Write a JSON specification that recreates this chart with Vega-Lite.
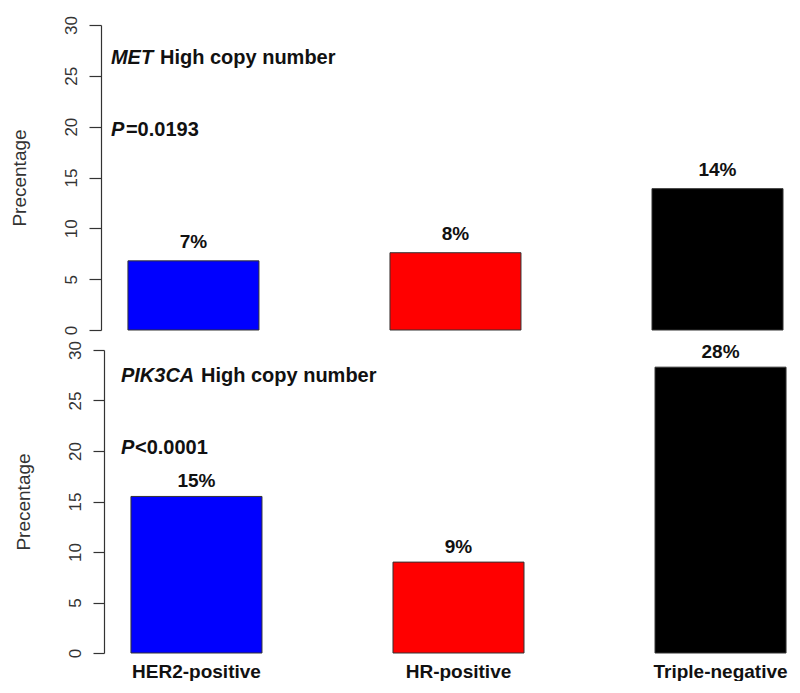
{
  "$schema": "https://vega.github.io/schema/vega-lite/v6.json",
  "background": "white",
  "padding": {"left": 10, "top": 15, "right": 0, "bottom": 0},
  "spacing": 5,
  "datasets": {
    "bars": [
      {"panel": "MET", "group": "HER2-positive", "value": 6.8, "label": "7%"},
      {"panel": "MET", "group": "HR-positive", "value": 7.6, "label": "8%"},
      {"panel": "MET", "group": "Triple-negative", "value": 13.9, "label": "14%"},
      {"panel": "PIK3CA", "group": "HER2-positive", "value": 15.5, "label": "15%"},
      {"panel": "PIK3CA", "group": "HR-positive", "value": 9.0, "label": "9%"},
      {"panel": "PIK3CA", "group": "Triple-negative", "value": 28.3, "label": "28%"}
    ],
    "notes": [
      {"panel": "MET", "anchor": "HER2-positive", "part": "gene", "text": "MET", "y": 26.75},
      {"panel": "MET", "anchor": "HER2-positive", "part": "rest", "text": "High copy number", "y": 26.75},
      {"panel": "MET", "anchor": "HER2-positive", "part": "p", "text": "P", "y": 19.7},
      {"panel": "MET", "anchor": "HER2-positive", "part": "pval", "text": "=0.0193", "y": 19.7},
      {"panel": "PIK3CA", "anchor": "HER2-positive", "part": "gene", "text": "PIK3CA", "y": 27.4},
      {"panel": "PIK3CA", "anchor": "HER2-positive", "part": "rest", "text": "High copy number", "y": 27.4},
      {"panel": "PIK3CA", "anchor": "HER2-positive", "part": "p", "text": "P", "y": 20.25},
      {"panel": "PIK3CA", "anchor": "HER2-positive", "part": "pval", "text": "<0.0001", "y": 20.25}
    ]
  },
  "vconcat": [
    {
      "width": 697,
      "height": 305,
      "layer": [
        {
          "data": {"name": "bars"},
          "transform": [{"filter": "datum.panel === 'MET'"}],
          "mark": {"type": "bar", "stroke": "#333333", "strokeWidth": 1},
          "encoding": {
            "x": {"field": "group", "type": "nominal", "sort": null, "axis": null,
                  "scale": {"paddingInner": 0.5, "paddingOuter": 0.08, "align": 0.571}},
            "y": {"field": "value", "type": "quantitative", "title": "Precentage",
                  "scale": {"domain": [0, 30], "nice": false},
                  "axis": {"values": [0, 5, 10, 15, 20, 25, 30], "offset": 3, "tickSize": 12, "labelPadding": 9, "titlePadding": 33}},
            "color": {"field": "group", "type": "nominal", "legend": null, "sort": null,
                      "scale": {"domain": ["HER2-positive", "HR-positive", "Triple-negative"], "range": ["#0000ff", "#ff0000", "#000000"]}}
          }
        },
        {
          "data": {"name": "bars"},
          "transform": [{"filter": "datum.panel === 'MET'"}],
          "mark": {"type": "text", "fontSize": 19, "fontWeight": "bold", "baseline": "middle", "dy": -19, "color": "#111111"},
          "encoding": {
            "x": {"field": "group", "type": "nominal", "sort": null},
            "y": {"field": "value", "type": "quantitative", "title": "Precentage"},
            "text": {"field": "label"}
          }
        },
        {
          "data": {"name": "notes"},
          "transform": [{"filter": "datum.panel === 'MET' && (datum.part === 'gene' || datum.part === 'p')"}],
          "mark": {"type": "text", "fontSize": 20, "fontWeight": "bold", "fontStyle": "italic", "align": "left", "baseline": "middle", "dx": -17, "color": "#111111"},
          "encoding": {
            "x": {"field": "anchor", "type": "nominal", "sort": null, "bandPosition": 0},
            "y": {"field": "y", "type": "quantitative", "title": "Precentage"},
            "text": {"field": "text"}
          }
        },
        {
          "data": {"name": "notes"},
          "transform": [{"filter": "datum.panel === 'MET' && datum.part === 'rest'"}],
          "mark": {"type": "text", "fontSize": 20, "fontWeight": "bold", "align": "left", "baseline": "middle", "dx": 32, "color": "#111111"},
          "encoding": {
            "x": {"field": "anchor", "type": "nominal", "sort": null, "bandPosition": 0},
            "y": {"field": "y", "type": "quantitative", "title": "Precentage"},
            "text": {"field": "text"}
          }
        },
        {
          "data": {"name": "notes"},
          "transform": [{"filter": "datum.panel === 'MET' && datum.part === 'pval'"}],
          "mark": {"type": "text", "fontSize": 20, "fontWeight": "bold", "align": "left", "baseline": "middle", "dx": -2, "color": "#111111"},
          "encoding": {
            "x": {"field": "anchor", "type": "nominal", "sort": null, "bandPosition": 0},
            "y": {"field": "y", "type": "quantitative", "title": "Precentage"},
            "text": {"field": "text"}
          }
        }
      ]
    },
    {
      "width": 697,
      "height": 303,
      "layer": [
        {
          "data": {"name": "bars"},
          "transform": [{"filter": "datum.panel === 'PIK3CA'"}],
          "mark": {"type": "bar", "stroke": "#333333", "strokeWidth": 1},
          "encoding": {
            "x": {"field": "group", "type": "nominal", "sort": null,
                  "scale": {"paddingInner": 0.5, "paddingOuter": 0.08, "align": 0.643},
                  "axis": {"title": null, "labelAngle": 0, "domain": false, "ticks": false, "labelPadding": 9, "labelFontSize": 19, "labelFontWeight": "bold", "labelColor": "#111111"}},
            "y": {"field": "value", "type": "quantitative", "title": "Precentage",
                  "scale": {"domain": [0, 30], "nice": false},
                  "axis": {"values": [0, 5, 10, 15, 20, 25, 30], "offset": 0, "tickSize": 11, "labelPadding": 9, "titlePadding": 33}},
            "color": {"field": "group", "type": "nominal", "legend": null, "sort": null,
                      "scale": {"domain": ["HER2-positive", "HR-positive", "Triple-negative"], "range": ["#0000ff", "#ff0000", "#000000"]}}
          }
        },
        {
          "data": {"name": "bars"},
          "transform": [{"filter": "datum.panel === 'PIK3CA'"}],
          "mark": {"type": "text", "fontSize": 19, "fontWeight": "bold", "baseline": "middle", "dy": -15, "color": "#111111"},
          "encoding": {
            "x": {"field": "group", "type": "nominal", "sort": null},
            "y": {"field": "value", "type": "quantitative", "title": "Precentage"},
            "text": {"field": "label"}
          }
        },
        {
          "data": {"name": "notes"},
          "transform": [{"filter": "datum.panel === 'PIK3CA' && (datum.part === 'gene' || datum.part === 'p')"}],
          "mark": {"type": "text", "fontSize": 20, "fontWeight": "bold", "fontStyle": "italic", "align": "left", "baseline": "middle", "dx": -10, "color": "#111111"},
          "encoding": {
            "x": {"field": "anchor", "type": "nominal", "sort": null, "bandPosition": 0},
            "y": {"field": "y", "type": "quantitative", "title": "Precentage"},
            "text": {"field": "text"}
          }
        },
        {
          "data": {"name": "notes"},
          "transform": [{"filter": "datum.panel === 'PIK3CA' && datum.part === 'rest'"}],
          "mark": {"type": "text", "fontSize": 20, "fontWeight": "bold", "align": "left", "baseline": "middle", "dx": 70, "color": "#111111"},
          "encoding": {
            "x": {"field": "anchor", "type": "nominal", "sort": null, "bandPosition": 0},
            "y": {"field": "y", "type": "quantitative", "title": "Precentage"},
            "text": {"field": "text"}
          }
        },
        {
          "data": {"name": "notes"},
          "transform": [{"filter": "datum.panel === 'PIK3CA' && datum.part === 'pval'"}],
          "mark": {"type": "text", "fontSize": 20, "fontWeight": "bold", "align": "left", "baseline": "middle", "dx": 4, "color": "#111111"},
          "encoding": {
            "x": {"field": "anchor", "type": "nominal", "sort": null, "bandPosition": 0},
            "y": {"field": "y", "type": "quantitative", "title": "Precentage"},
            "text": {"field": "text"}
          }
        }
      ]
    }
  ],
  "config": {
    "font": "Liberation Sans",
    "view": {"stroke": null},
    "axis": {"grid": false, "domainColor": "#333333", "tickColor": "#333333", "domainWidth": 1.2, "tickWidth": 1.2},
    "axisY": {"labelAngle": -90, "labelAlign": "center", "labelBaseline": "bottom", "labelFontSize": 17, "labelColor": "#333333", "titleFontSize": 19, "titleFontWeight": "normal", "titleColor": "#333333"}
  }
}
